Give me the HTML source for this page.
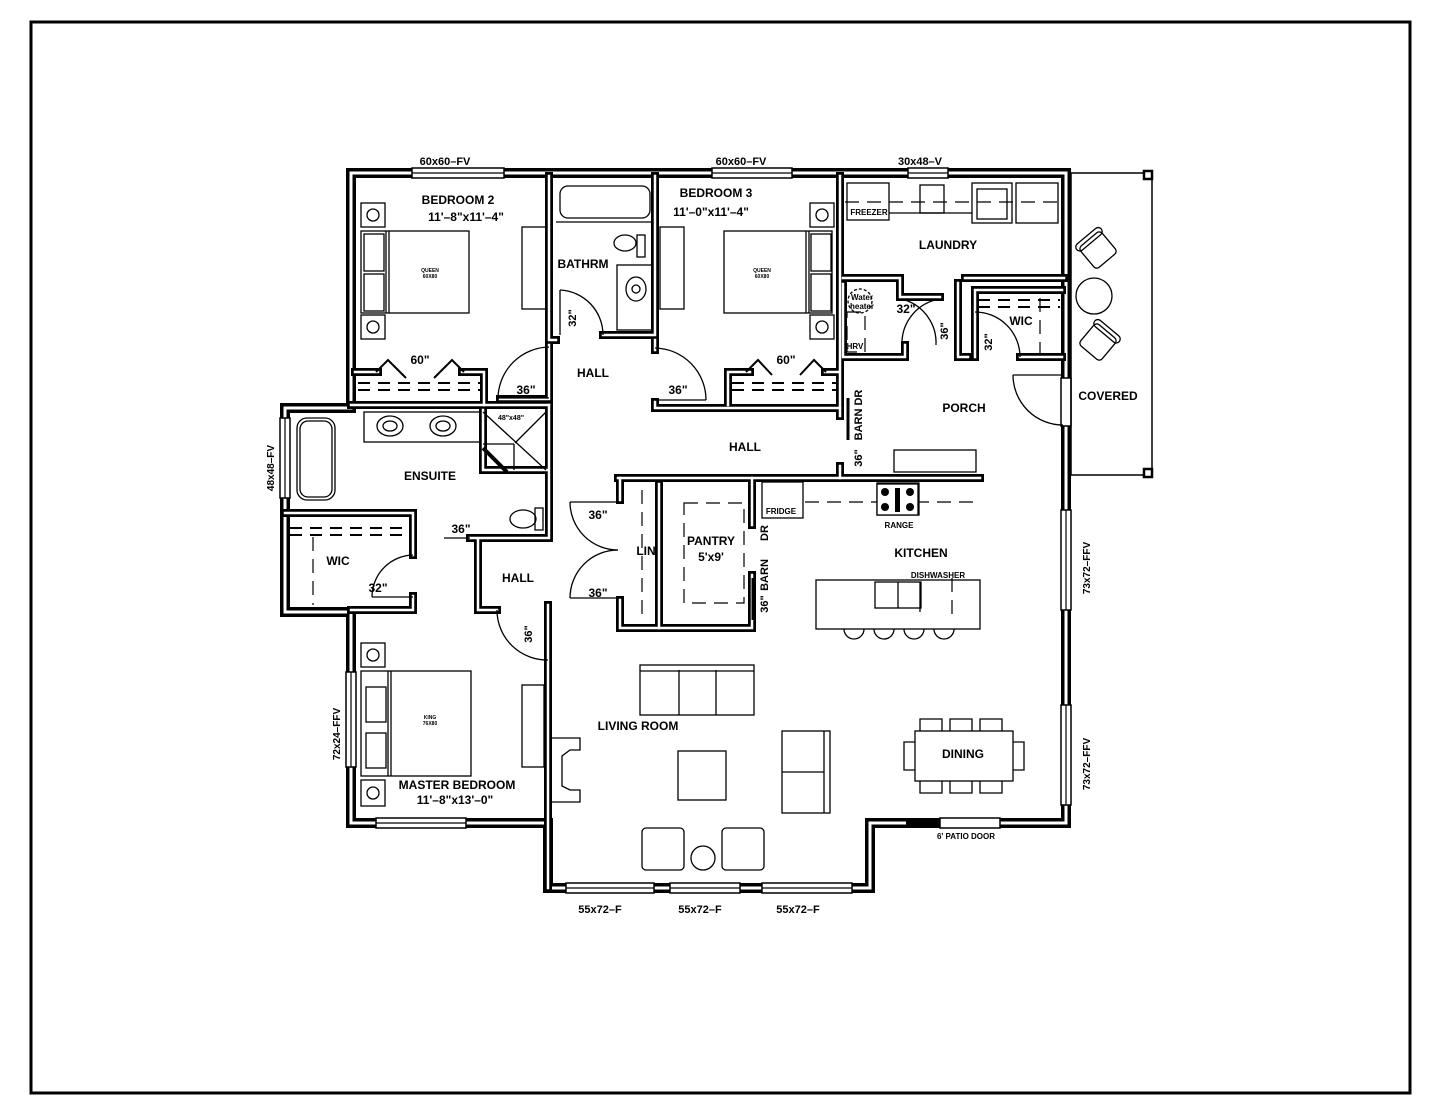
<!DOCTYPE html>
<html><head><meta charset="utf-8"><style>
html,body{margin:0;padding:0;background:#fff}
svg{display:block}
text{font-family:"Liberation Sans",sans-serif;font-weight:bold;fill:#000}
</style></head><body>
<svg width="1445" height="1117" viewBox="0 0 1445 1117" xmlns="http://www.w3.org/2000/svg">
<rect x="31" y="22" width="1379" height="1071" fill="none" stroke="#000" stroke-width="3"/>

<defs>
<g id="ext" fill="none" stroke-linejoin="miter" stroke-linecap="square">
<path d="M351,173 H1066 V823 H870 V888 H548 V823 H351 V612 H285 V408 H351 Z"/>
</g>
<g id="int" fill="none" stroke-linecap="square">
<path d="M549,176 V340 H556"/>
<path d="M549,345 V399 H500"/>
<path d="M603,335 H655 V176"/>
<path d="M655,340 V350"/>
<path d="M351,405 H549"/>
<path d="M355,372 H378 M462,372 H484 V405"/>
<path d="M655,402 V408 H840 V176"/>
<path d="M728,405 V372 H750 M825,372 H838"/>
<path d="M840,408 V416"/>
<path d="M840,466 V478"/>
<path d="M843,278 H900 V297 H940"/>
<path d="M965,278 H1064"/>
<path d="M843,284 V357 H905 V345"/>
<path d="M958,283 V357 H968 M975,290 V357 M975,290 H1062"/>
<path d="M1020,357 H1062"/>
<path d="M618,478 H980"/>
<path d="M549,405 V538 H470"/>
<path d="M285,513 H413 V555"/>
<path d="M413,596 V610 H351"/>
<path d="M478,540 V610 H497"/>
<path d="M548,605 V888"/>
<path d="M483,410 V470 H548"/>
<path d="M620,478 V500"/>
<path d="M620,600 V628 H752 V575"/>
<path d="M752,478 V525"/>
<path d="M659,484 V628"/>
</g>
</defs>

<use href="#ext" stroke="#000" stroke-width="10"/>
<use href="#ext" stroke="#fff" stroke-width="3"/>
<use href="#int" stroke="#000" stroke-width="8"/>
<use href="#int" stroke="#fff" stroke-width="2.5"/>

<g fill="#fff" stroke="#000" stroke-width="1.5">
<rect x="412" y="168" width="92" height="10"/>
<rect x="712" y="168" width="80" height="10"/>
<rect x="908" y="168" width="40" height="10"/>
<rect x="280" y="418" width="10" height="80"/>
<rect x="346" y="672" width="10" height="95"/>
<rect x="376" y="818" width="90" height="10"/>
<rect x="566" y="883" width="88" height="10"/>
<rect x="670" y="883" width="70" height="10"/>
<rect x="762" y="883" width="90" height="10"/>
<rect x="1061" y="510" width="10" height="100"/>
<rect x="1061" y="705" width="10" height="100"/>
<rect x="1061" y="378" width="10" height="48"/>
<rect x="940" y="818" width="60" height="10"/>
</g>
<g stroke="#000" stroke-width="1.2">
<line x1="412" y1="173" x2="504" y2="173"/><line x1="712" y1="173" x2="792" y2="173"/><line x1="908" y1="173" x2="948" y2="173"/>
<line x1="285" y1="418" x2="285" y2="498"/><line x1="351" y1="672" x2="351" y2="767"/>
<line x1="376" y1="823" x2="466" y2="823"/><line x1="566" y1="888" x2="654" y2="888"/><line x1="670" y1="888" x2="740" y2="888"/><line x1="762" y1="888" x2="852" y2="888"/>
<line x1="1066" y1="510" x2="1066" y2="610"/><line x1="1066" y1="705" x2="1066" y2="805"/>
</g>
<rect x="906" y="819" width="34" height="8" fill="#000"/>

<g fill="none" stroke="#000" stroke-width="1.5">
<rect x="1071" y="173" width="81" height="302"/>
</g>
<rect x="1144" y="171" width="8" height="8" fill="#fff" stroke="#000" stroke-width="2.5"/>
<rect x="1144" y="469" width="8" height="8" fill="#fff" stroke="#000" stroke-width="2.5"/>

<g fill="none" stroke="#000" stroke-width="1.3">
<path d="M498,398 A52,52 0 0 1 549,347"/><line x1="498" y1="398" x2="549" y2="398"/>
<path d="M706,400 A52,52 0 0 0 655,348"/><line x1="706" y1="400" x2="655" y2="400"/>
<path d="M603,335 A45,45 0 0 0 560,290"/><line x1="560" y1="290" x2="560" y2="335"/>
<path d="M935,300 A45,45 0 0 0 902,345"/><path d="M905,300 A45,45 0 0 1 936,345"/>
<line x1="905" y1="300" x2="940" y2="300"/>
<path d="M1020,357 A45,45 0 0 0 975,312"/>
<path d="M1063,425 A50,50 0 0 1 1013,375"/><line x1="1013" y1="375" x2="1063" y2="375"/>
<path d="M413,555 A42,42 0 0 0 372,597"/><line x1="372" y1="597" x2="413" y2="597"/>
<line x1="444" y1="538" x2="470" y2="538"/>
<path d="M497,610 A50,50 0 0 0 548,660"/>
<path d="M570,502 A48,48 0 0 0 618,550"/><path d="M570,598 A48,48 0 0 1 618,550"/>
<line x1="570" y1="502" x2="618" y2="502"/><line x1="570" y1="598" x2="618" y2="598"/>
</g>
<line x1="848" y1="398" x2="848" y2="440" stroke="#000" stroke-width="3"/>
<line x1="753" y1="578" x2="753" y2="620" stroke="#000" stroke-width="3"/>
<line x1="483" y1="448" x2="507" y2="472" stroke="#000" stroke-width="4"/>

<g stroke="#000" stroke-width="2" stroke-dasharray="12,8">
<line x1="358" y1="383" x2="480" y2="383"/><line x1="358" y1="390" x2="480" y2="390"/>
<line x1="732" y1="383" x2="836" y2="383"/><line x1="732" y1="390" x2="836" y2="390"/>
<line x1="290" y1="528" x2="408" y2="528"/><line x1="290" y1="535" x2="408" y2="535"/>
<line x1="978" y1="300" x2="1060" y2="300"/><line x1="978" y1="307" x2="1060" y2="307"/>
</g>
<g stroke="#000" stroke-width="1.2" stroke-dasharray="14,8" fill="none">
<line x1="313" y1="537" x2="313" y2="605"/>
<line x1="642" y1="490" x2="642" y2="620"/>
<rect x="684" y="503" width="60" height="100"/>
<line x1="845" y1="202" x2="1062" y2="202"/>
<line x1="805" y1="502" x2="978" y2="502"/>
<line x1="952" y1="578" x2="952" y2="616"/>
<line x1="1040" y1="298" x2="1040" y2="355"/>
<rect x="847" y="312" width="18" height="40"/>
</g>
<g fill="none" stroke="#000" stroke-width="2">
<path d="M376,372 L388,360 L406,378"/><path d="M464,372 L452,360 L434,378"/>
<path d="M746,372 L758,360 L772,375"/><path d="M826,372 L814,360 L800,375"/>
</g>

<g fill="none" stroke="#000" stroke-width="1.3">
<rect x="361" y="231" width="108" height="82"/><line x1="386" y1="231" x2="386" y2="313"/><line x1="389" y1="231" x2="389" y2="313"/>
<rect x="364" y="234" width="20" height="37"/><rect x="364" y="274" width="20" height="37"/>
<rect x="361" y="203" width="24" height="24"/><circle cx="373" cy="215" r="6"/>
<rect x="361" y="315" width="24" height="24"/><circle cx="373" cy="327" r="6"/>
<rect x="522" y="227" width="24" height="82"/>
<rect x="560" y="186" width="90" height="32" rx="8"/><line x1="556" y1="222" x2="652" y2="222"/>
<ellipse cx="625" cy="243" rx="11" ry="8"/><rect x="637" y="235" width="8" height="22"/>
<rect x="617" y="265" width="35" height="65"/><ellipse cx="636" cy="289" rx="10" ry="12"/><circle cx="636" cy="289" r="4"/>
<rect x="724" y="231" width="108" height="82"/><line x1="806" y1="231" x2="806" y2="313"/><line x1="809" y1="231" x2="809" y2="313"/>
<rect x="811" y="234" width="20" height="37"/><rect x="811" y="274" width="20" height="37"/>
<rect x="810" y="203" width="24" height="24"/><circle cx="822" cy="215" r="6"/>
<rect x="810" y="315" width="24" height="24"/><circle cx="822" cy="327" r="6"/>
<rect x="660" y="227" width="24" height="82"/>
<rect x="847" y="183" width="42" height="37"/>
<rect x="920" y="185" width="24" height="28"/>
<rect x="972" y="183" width="40" height="40"/><rect x="977" y="189" width="30" height="30"/>
<rect x="1016" y="183" width="42" height="40"/>
<line x1="889" y1="213" x2="972" y2="213"/>
<circle cx="860" cy="301" r="12" stroke-dasharray="3,2"/>
<g transform="translate(1098,250) rotate(-40)"><rect x="-14" y="-14" width="28" height="28" rx="4"/><rect x="-16" y="-18" width="32" height="8" rx="4"/></g>
<circle cx="1094" cy="296" r="18"/>
<g transform="translate(1098,342) rotate(40)"><rect x="-14" y="-14" width="28" height="28" rx="4"/><rect x="-16" y="-18" width="32" height="8" rx="4"/></g>
<rect x="894" y="450" width="82" height="22"/>
<rect x="297" y="418" width="38" height="82" rx="10"/><rect x="300" y="421" width="32" height="76" rx="8"/>
<rect x="364" y="412" width="116" height="30"/>
<ellipse cx="390" cy="426" rx="13" ry="10"/><ellipse cx="390" cy="426" rx="7" ry="5"/>
<ellipse cx="443" cy="426" rx="13" ry="10"/><ellipse cx="443" cy="426" rx="7" ry="5"/>
<line x1="483" y1="412" x2="546" y2="470"/><line x1="546" y1="412" x2="515" y2="443"/><line x1="514" y1="444" x2="514" y2="470"/><line x1="483" y1="444" x2="514" y2="444"/>
<ellipse cx="523" cy="519" rx="13" ry="9"/><rect x="535" y="508" width="8" height="22"/>
<rect x="762" y="482" width="41" height="36"/><rect x="877" y="483" width="42" height="32"/>
<rect x="816" y="580" width="164" height="49"/><rect x="875" y="582" width="46" height="26"/><line x1="898" y1="582" x2="898" y2="608"/>
<line x1="920" y1="582" x2="920" y2="612"/>
<path d="M844,629 a10,10 0 0 0 20,0 M874,629 a10,10 0 0 0 20,0 M904,629 a10,10 0 0 0 20,0 M934,629 a10,10 0 0 0 20,0"/>
<rect x="361" y="671" width="110" height="105"/><line x1="388" y1="671" x2="388" y2="776"/><line x1="391" y1="671" x2="391" y2="776"/>
<rect x="366" y="687" width="20" height="35"/><rect x="366" y="733" width="20" height="35"/>
<rect x="361" y="643" width="24" height="24"/><circle cx="373" cy="655" r="6"/>
<rect x="361" y="780" width="24" height="26"/><circle cx="373" cy="793" r="6"/>
<rect x="522" y="685" width="22" height="82"/>
<path d="M552,738 H580 V750 H570 L562,756 V786 L570,790 H580 V802 H552"/>
<rect x="640" y="665" width="114" height="50"/><line x1="679" y1="670" x2="679" y2="715"/><line x1="716" y1="670" x2="716" y2="715"/><line x1="640" y1="671" x2="754" y2="671"/>
<rect x="678" y="751" width="48" height="49"/>
<rect x="782" y="731" width="48" height="82"/><line x1="782" y1="772" x2="824" y2="772"/><line x1="824" y1="731" x2="824" y2="813"/>
<rect x="642" y="828" width="42" height="42" rx="4"/><rect x="722" y="828" width="42" height="42" rx="4"/>
<ellipse cx="703" cy="858" rx="12" ry="12"/>
<rect x="915" y="731" width="98" height="50"/>
<path d="M920,731 v-12 h22 v12 M950,731 v-12 h22 v12 M980,731 v-12 h22 v12"/>
<path d="M920,781 v12 h22 v-12 M950,781 v12 h22 v-12 M980,781 v12 h22 v-12"/>
<path d="M915,742 h-11 v28 h11 M1013,742 h11 v28 h-11"/>
</g>
<rect x="877" y="484" width="41" height="31" fill="#fff" stroke="#000" stroke-width="1.3"/>
<g fill="#000"><circle cx="885" cy="492" r="4"/><circle cx="885" cy="507" r="4"/><circle cx="910" cy="492" r="4"/><circle cx="910" cy="507" r="4"/><rect x="895" y="488" width="5" height="24"/></g>

<g font-size="12" text-anchor="middle">
<text x="445" y="165" font-size="11" font-weight="normal">60x60–FV</text>
<text x="741" y="165" font-size="11" font-weight="normal">60x60–FV</text>
<text x="920" y="165" font-size="11" font-weight="normal">30x48–V</text>
<text x="458" y="204">BEDROOM 2</text>
<text x="466" y="221" font-weight="normal" font-size="12">11'–8"x11'–4"</text>
<text x="716" y="197">BEDROOM 3</text>
<text x="711" y="216" font-weight="normal">11'–0"x11'–4"</text>
<text x="583" y="268">BATHRM</text>
<text x="948" y="249">LAUNDRY</text>
<text x="1021" y="325">WIC</text>
<text x="593" y="377">HALL</text>
<text x="745" y="451">HALL</text>
<text x="964" y="412">PORCH</text>
<text x="1108" y="400">COVERED</text>
<text x="430" y="480">ENSUITE</text>
<text x="338" y="565">WIC</text>
<text x="518" y="582">HALL</text>
<text x="711" y="545">PANTRY</text>
<text x="711" y="561" font-weight="normal">5'x9'</text>
<text x="646" y="555">LIN</text>
<text x="921" y="557">KITCHEN</text>
<text x="638" y="730">LIVING ROOM</text>
<text x="963" y="758">DINING</text>
<text x="457" y="789">MASTER BEDROOM</text>
<text x="455" y="804" font-weight="normal">11'–8"x13'–0"</text>
<text x="420" y="364">60"</text><text x="786" y="364">60"</text>
<text x="526" y="394">36"</text><text x="678" y="394">36"</text>
<text x="906" y="313">32"</text>
<text x="461" y="533">36"</text>
<text x="378" y="592">32"</text>
<text x="598" y="519">36"</text><text x="598" y="597">36"</text>
<text x="600" y="913" font-size="11" font-weight="normal">55x72–F</text>
<text x="700" y="913" font-size="11" font-weight="normal">55x72–F</text>
<text x="798" y="913" font-size="11" font-weight="normal">55x72–F</text>
<text x="966" y="839" font-size="8">6' PATIO DOOR</text>
<text x="869" y="215" font-size="8">FREEZER</text>
<text x="781" y="514" font-size="8">FRIDGE</text>
<text x="899" y="528" font-size="8">RANGE</text>
<text x="938" y="578" font-size="8">DISHWASHER</text>
<text x="862" y="300" font-size="8" font-weight="normal">Water</text>
<text x="862" y="309" font-size="8" font-weight="normal">heater</text>
<text x="855" y="349" font-size="8">HRV</text>
<text x="511" y="420" font-size="7">48"x48"</text>
<text x="430" y="272" font-size="5">QUEEN</text><text x="430" y="278" font-size="5">60X80</text>
<text x="762" y="272" font-size="5">QUEEN</text><text x="762" y="278" font-size="5">60X80</text>
<text x="430" y="719" font-size="5">KING</text><text x="430" y="725" font-size="5">76X80</text>
</g>
<g font-size="11" text-anchor="middle">
<text transform="translate(576,318) rotate(-90)">32"</text>
<text transform="translate(948,331) rotate(-90)">36"</text>
<text transform="translate(992,342) rotate(-90)">32"</text>
<text transform="translate(862,415) rotate(-90)">BARN DR</text>
<text transform="translate(862,458) rotate(-90)">36"</text>
<text transform="translate(768,533) rotate(-90)">DR</text>
<text transform="translate(768,575) rotate(-90)">BARN</text>
<text transform="translate(768,604) rotate(-90)">36"</text>
<text transform="translate(532,634) rotate(-90)">36"</text>
<text transform="translate(274,468) rotate(-90)" font-weight="normal" font-size="10">48x48–FV</text>
<text transform="translate(340,734) rotate(-90)" font-weight="normal" font-size="10">72x24–FFV</text>
<text transform="translate(1090,568) rotate(-90)" font-weight="normal" font-size="10">73x72–FFV</text>
<text transform="translate(1090,764) rotate(-90)" font-weight="normal" font-size="10">73x72–FFV</text>
</g>
</svg>
</body></html>
